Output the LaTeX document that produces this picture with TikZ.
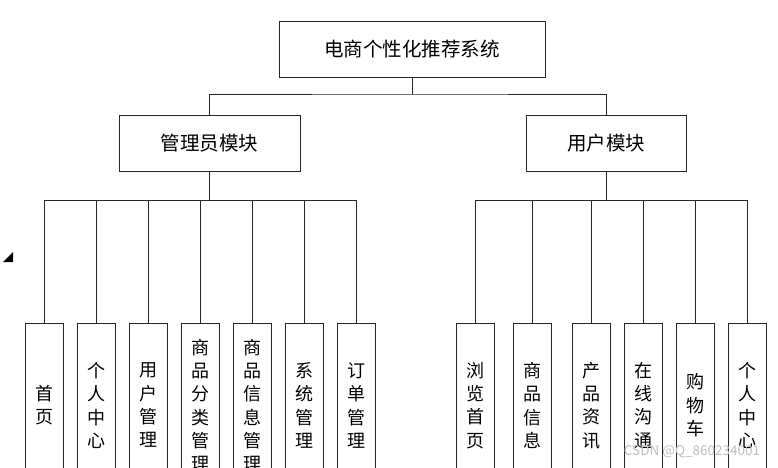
\documentclass[tikz,border=0pt]{standalone}
\usepackage{fontspec}
\setmainfont{Noto Sans CJK SC}
\usetikzlibrary{positioning}

\begin{document}
\begin{tikzpicture}[x=1pt,y=-1pt,
    box/.style={draw=black!85, line width=0.8pt, inner sep=0pt, minimum height=56pt},
    leafbox/.style={box, minimum width=38pt, minimum height=164pt, anchor=north, align=center,
        font=\fontsize{18}{23.3}\selectfont},
    link/.style={draw=black!85, line width=0.8pt}]
    \useasboundingbox (0,0) rectangle (778,467);
    \clip (0,0) rectangle (778,467);
    % top levels
    \node[box, minimum width=266pt, font=\fontsize{19.5}{20}\selectfont] (root) at (412,49) {电商个性化推荐系统};
    \node[box, minimum width=181pt, font=\fontsize{19.5}{20}\selectfont] (admin) at (209.5,143) {管理员模块};
    \node[box, minimum width=160pt, font=\fontsize{19.5}{20}\selectfont] (user) at (606,143) {用户模块};
    \coordinate (rootbus) at (412,94);
    \draw[link] (root.south) -- (rootbus);
    \draw[link] (admin.north) |- (rootbus) -| (user.north);
    % admin leaves
    \coordinate (adminbus) at (209.5,200);
    \draw[link] (admin.south) -- (adminbus);
    \foreach \i/\x/\txt in {1/44/{首\\页}, 2/96/{个\\人\\中\\心}, 3/148/{用\\户\\管\\理},
        4/200/{商\\品\\分\\类\\管\\理}, 5/252/{商\\品\\信\\息\\管\\理},
        6/304/{系\\统\\管\\理}, 7/356/{订\\单\\管\\理}} {
        \node[leafbox] (a\i) at (\x,323) {\txt};
        \draw[link] (a\i.north) |- (adminbus);
    }
    % user leaves
    \coordinate (userbus) at (606,200);
    \draw[link] (user.south) -- (userbus);
    \foreach \i/\x/\txt in {1/475.3/{浏\\览\\首\\页}, 2/532/{商\\品\\信\\息}, 3/591.3/{产\\品\\资\\讯},
        4/643.3/{在\\线\\沟\\通}, 5/695.3/{购\\物\\车}, 6/747.3/{个\\人\\中\\心}} {
        \node[leafbox] (u\i) at (\x,323) {\txt};
        \draw[link] (u\i.north) |- (userbus);
    }
    % stray mark
    \fill (3,262) -- (13,262) -- (13,252) -- cycle;
    \node[text=black!25, font=\fontsize{13.5}{14}\selectfont] (mark) at (692,452) {CSDN @Q\_860234001};
\end{tikzpicture}
\end{document}
